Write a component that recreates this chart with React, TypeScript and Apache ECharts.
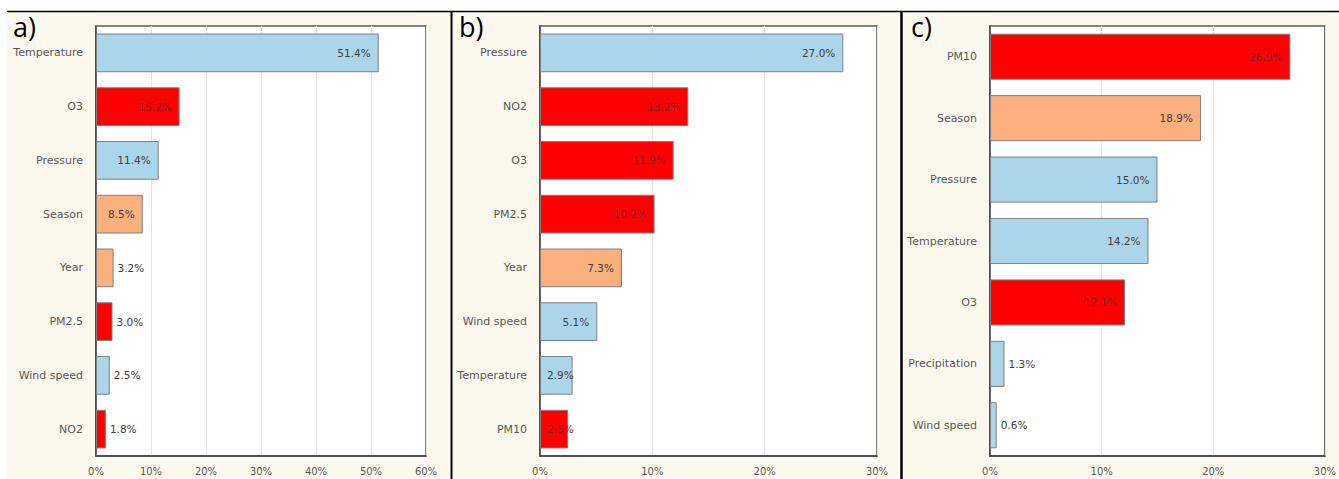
import React, { useEffect, useRef } from "react";
import * as echarts from "echarts";

const catsA = ["Temperature", "O3", "Pressure", "Season", "Year", "PM2.5", "Wind speed", "NO2"];
const valsA = [51.4, 15.2, 11.4, 8.5, 3.2, 3.0, 2.5, 1.8];
const catsB = ["Pressure", "NO2", "O3", "PM2.5", "Year", "Wind speed", "Temperature", "PM10"];
const valsB = [27.0, 13.2, 11.9, 10.2, 7.3, 5.1, 2.9, 2.5];
const catsC = ["PM10", "Season", "Pressure", "Temperature", "O3", "Precipitation", "Wind speed"];
const valsC = [26.9, 18.9, 15.0, 14.2, 12.1, 1.3, 0.6];
const ticksA = { max: 60, interval: 10 };
const ticksBC = { max: 30, interval: 10 };

const groupOf: Record<string, string> = {
  Temperature: "met", Pressure: "met", "Wind speed": "met", Precipitation: "met",
  O3: "pol", NO2: "pol", "PM2.5": "pol", PM10: "pol",
  Season: "time", Year: "time",
};
const fillOf: Record<string, string> = { met: "#abd5ea", pol: "#ff0000", time: "#fcb07e" };
const textOf: Record<string, string> = { met: "#404040", pol: "#7a2626", time: "#404040" };

const FONT = "DejaVu Sans";

export default function App() {
  const ref = useRef<HTMLDivElement>(null);
  useEffect(() => {
    const chart = echarts.init(ref.current!, null, { renderer: "svg" });
    const panels = [
      { cats: catsA, vals: valsA, left: 96, width: 330, ticks: ticksA, bw: "72%" },
      { cats: catsB, vals: valsB, left: 540, width: 337, ticks: ticksBC, bw: "72%" },
      { cats: catsC, vals: valsC, left: 990, width: 338, ticks: ticksBC, bw: "75%" },
    ];
    const grid: any[] = [];
    const xAxis: any[] = [];
    const yAxis: any[] = [];
    const series: any[] = [];
    panels.forEach((p, i) => {
      grid.push({
        left: p.left, top: 26, width: p.width, height: 430,
        show: true, backgroundColor: "#ffffff", borderColor: "#5a5a5a", borderWidth: 1.5,
      });
      xAxis.push({
        type: "value", gridIndex: i, min: 0, max: p.ticks.max, interval: p.ticks.interval,
        axisLabel: { formatter: "{value}%", color: "#595959", fontSize: 10, fontFamily: FONT, margin: 10 },
        axisLine: { show: true, lineStyle: { color: "#404040", width: 1.5 } },
        axisTick: { show: false },
        splitLine: { show: true, lineStyle: { color: "#e6e6e6", width: 1 } },
      });
      yAxis.push({
        type: "category", gridIndex: i, data: p.cats, inverse: true,
        axisLabel: { color: "#595959", fontSize: 11, fontFamily: FONT, margin: 13 },
        axisLine: { show: true, lineStyle: { color: "#404040", width: 1.5 } },
        axisTick: { show: false },
      });
      series.push({
        type: "bar", xAxisIndex: i, yAxisIndex: i, barWidth: p.bw,
        data: p.vals.map((v, k) => {
          const g = groupOf[p.cats[k]];
          const px = (v / p.ticks.max) * p.width;
          const inside = px > 25;
          const tight = inside && px < 40;
          return {
            value: v,
            itemStyle: { color: fillOf[g], borderColor: "#808080", borderWidth: 1 },
            label: {
              show: true,
              position: tight ? "insideLeft" : inside ? "insideRight" : "right",
              distance: tight ? 7 : inside ? 8 : 4,
              color: inside ? textOf[g] : "#404040",
            },
          };
        }),
        label: {
          fontSize: 10.5, fontFamily: FONT,
          formatter: (d: any) => d.value.toFixed(1) + "%",
        },
      });
    });
    chart.setOption({
      animation: false,
      backgroundColor: "#ffffff",
      graphic: [
        { type: "rect", silent: true, z: -10, shape: { x: 7, y: 12, width: 1332, height: 466 }, style: { fill: "#fdf8ee" } },
        { type: "line", z: 10, shape: { x1: 7, y1: 11.5, x2: 1339, y2: 11.5 }, style: { stroke: "#000", lineWidth: 1.5 } },
        { type: "line", z: 10, shape: { x1: 451.5, y1: 11, x2: 451.5, y2: 479 }, style: { stroke: "#000", lineWidth: 2 } },
        { type: "line", z: 10, shape: { x1: 901.5, y1: 11, x2: 901.5, y2: 479 }, style: { stroke: "#000", lineWidth: 2.5 } },
        { type: "text", x: 13, y: 13, style: { text: "a)", fontSize: 27, fontFamily: "Open Sans", fill: "#000" } },
        { type: "text", x: 459, y: 13, style: { text: "b)", fontSize: 27, fontFamily: "Open Sans", fill: "#000" } },
        { type: "text", x: 911, y: 13, style: { text: "c)", fontSize: 27, fontFamily: "Open Sans", fill: "#000" } },
      ],
      grid, xAxis, yAxis, series,
    });
    return () => chart.dispose();
  }, []);
  return <div ref={ref} style={{ position: "fixed", left: 0, top: 0, width: 1339, height: 479 }} />;
}
